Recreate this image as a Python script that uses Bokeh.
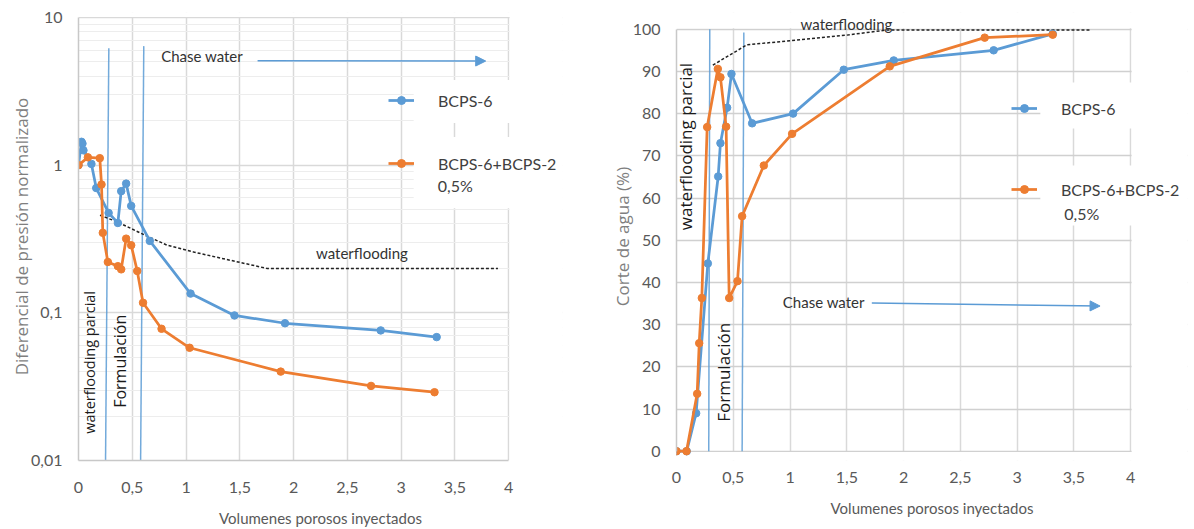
from bokeh.plotting import figure
from bokeh.layouts import row
from bokeh.models import (Range1d, FixedTicker, CustomJSTickFormatter, Legend, LegendItem,
                          Label, Arrow, NormalHead, BoxAnnotation)
from bokeh.embed import file_html
from bokeh.resources import INLINE

BLUE = "#5B9BD5"
ORANGE = "#ED7D31"
GRID = "#D9D9D9"
MINOR_GRID = "#EDEDED"
AXIS = "#C8C8C8"
TICK_TXT = "#595959"
TITLE_TXT = "#7F7F7F"
NOTE_TXT = "#333333"

# ---------------- data: normalized pressure differential ----------------
pv_dp_bcps6 = [0.0, 0.028, 0.037, 0.046, 0.12, 0.165, 0.28, 0.366, 0.397, 0.443, 0.49,
               0.663, 1.042, 1.45, 1.92, 2.81, 3.33]
dp_bcps6 = [1.0, 1.44, 1.40, 1.26, 1.02, 0.70, 0.475, 0.406, 0.667, 0.75, 0.53,
            0.307, 0.135, 0.096, 0.085, 0.076, 0.0685]

pv_dp_mix = [0.0, 0.087, 0.198, 0.214, 0.226, 0.273, 0.366, 0.397, 0.443, 0.49, 0.546,
             0.60, 0.772, 1.033, 1.88, 2.72, 3.31]
dp_mix = [1.0, 1.13, 1.115, 0.74, 0.348, 0.221, 0.207, 0.197, 0.318, 0.287, 0.192,
          0.117, 0.078, 0.058, 0.040, 0.032, 0.029]

# waterflooding reference trend (pressure)
pv_dp_wf = [0.2, 0.36, 0.62, 0.825, 1.07, 1.75, 3.9]
dp_wf = [0.458, 0.413, 0.335, 0.287, 0.258, 0.2, 0.2]

# ---------------- data: water cut ----------------
pv_wc_bcps6 = [0.0, 0.09, 0.173, 0.276, 0.367, 0.387, 0.446, 0.484, 0.666, 1.027,
               1.473, 1.913, 2.793, 3.313]
wc_bcps6 = [0.0, 0.0, 9.0, 44.5, 65.1, 73.0, 81.4, 89.4, 77.7, 80.0,
            90.4, 92.6, 95.0, 98.9]

pv_wc_mix = [0.0, 0.088, 0.182, 0.2, 0.223, 0.27, 0.364, 0.387, 0.437, 0.464, 0.537,
             0.578, 0.769, 1.018, 1.878, 2.714, 3.313]
wc_mix = [0.0, 0.0, 13.6, 25.6, 36.3, 76.8, 90.6, 88.6, 76.9, 36.3, 40.3,
          55.7, 67.7, 75.2, 91.2, 98.0, 98.7]

# waterflooding reference trend (water cut)
pv_wc_wf = [0.32, 0.62, 1.09, 1.5, 1.85, 3.65]
wc_wf = [91.5, 96.3, 97.5, 98.6, 99.8, 99.8]

# injection stage boundaries (pore volumes), bottom and top of each marker line
dp_stage_x_bottom = [0.251, 0.577]
dp_stage_x_top = [0.282, 0.607]
wc_stage_x_bottom = [0.284, 0.578]
wc_stage_x_top = [0.293, 0.593]

x_ticks = [0, 0.5, 1, 1.5, 2, 2.5, 3, 3.5, 4]
dp_ticks = [0.01, 0.1, 1, 10]
dp_minor_ticks = [m * 10.0 ** e for e in (-2, -1, 0) for m in range(2, 10)]
wc_ticks = list(range(0, 101, 10))

SERIES_NAMES = ["BCPS-6", "BCPS-6+BCPS-2"]

X_MAX = 4.0      # last labelled pore volume
X_ROOM = 4.5     # frame extends past the axis so legend text fits
DP_TOP = 10 ** (1 + 5 / 147.66)   # a little headroom above the 10 gridline
WC_LOW, WC_TOP = -2.2, 103.96     # room below 0 % and above 100 %

comma = CustomJSTickFormatter(code="return tick.toString().replace('.', ',');")


def style(p, xstand, xtitle_stand, ystand, ytitle_stand, ybounds):
    p.outline_line_color = None
    p.background_fill_color = "white"
    for ax in (p.xaxis[0], p.yaxis[0]):
        ax.axis_line_color = AXIS
        ax.axis_line_width = 1.5
        ax.major_tick_line_color = None
        ax.minor_tick_line_color = None
        ax.major_tick_out = 0
        ax.major_tick_in = 0
        ax.minor_tick_out = 0
        ax.major_label_text_font = "Lato"
        ax.major_label_text_font_size = "16px"
        ax.major_label_text_color = TICK_TXT
        ax.axis_label_text_font_style = "normal"
    p.xaxis[0].bounds = (0, X_MAX)
    p.yaxis[0].bounds = ybounds
    p.xaxis[0].axis_label = "Volumenes porosos inyectados"
    p.xaxis[0].axis_label_text_font = "Lato"
    p.xaxis[0].axis_label_text_font_size = "15px"
    p.xaxis[0].axis_label_text_color = TICK_TXT
    p.xaxis[0].major_label_standoff = xstand
    p.xaxis[0].axis_label_standoff = xtitle_stand
    p.yaxis[0].axis_label_text_font = "Open Sans"
    p.yaxis[0].axis_label_text_font_size = "17px"
    p.yaxis[0].axis_label_text_color = TITLE_TXT
    p.yaxis[0].major_label_standoff = ystand
    p.yaxis[0].axis_label_standoff = ytitle_stand
    p.xaxis[0].ticker = FixedTicker(ticks=x_ticks)
    p.xaxis[0].formatter = comma
    p.xgrid.grid_line_color = GRID
    p.xgrid.grid_line_width = 1.5
    p.ygrid.grid_line_color = GRID
    p.ygrid.grid_line_width = 1.5


def series(p, x, y, color):
    ln = p.line(x, y, line_color=color, line_width=2.75)
    dots = p.scatter(x, y, size=7.5, fill_color=color, line_color=color)
    return [ln, dots]


def note(p, x, y, text, size="15px", font="Lato", angle=0, color=NOTE_TXT, align="center"):
    p.add_layout(Label(x=x, y=y, text=text, text_font=font, text_font_size=size,
                       text_color=color, text_align=align, text_baseline="middle",
                       angle=angle, angle_units="deg"))


def legend(p, items, loc, spacing):
    lg = Legend(items=[LegendItem(label=n, renderers=r) for n, r in items],
                location=loc, orientation="vertical", glyph_width=26, glyph_height=20,
                label_height=20, label_standoff=24, spacing=spacing, padding=0, margin=0,
                border_line_color=None, background_fill_alpha=0,
                label_text_font="Lato", label_text_font_size="16px",
                label_text_color="#404040")
    p.add_layout(lg)


def white_box(p, left, right, bottom, top, level="annotation"):
    p.add_layout(BoxAnnotation(left=left, right=right, bottom=bottom, top=top,
                               fill_color="white", fill_alpha=1.0, line_color=None,
                               level=level))


# ======================= pressure differential chart =======================
p1 = figure(width=600, height=529, y_axis_type="log",
            x_range=Range1d(0, X_ROOM), y_range=Range1d(0.01, DP_TOP),
            output_backend="svg", toolbar_location=None,
            min_border_left=78, min_border_right=38, min_border_top=12, min_border_bottom=69)
style(p1, 21, 13, 16, -5, (0.01, 10))
p1.yaxis[0].axis_label = "Diferencial de presión normalizado"
p1.yaxis[0].ticker = FixedTicker(ticks=dp_ticks, minor_ticks=dp_minor_ticks)
p1.yaxis[0].formatter = comma
p1.ygrid.minor_grid_line_color = MINOR_GRID
p1.ygrid.minor_grid_line_width = 1

p1.segment(x0=dp_stage_x_bottom, y0=[0.009, 0.009], x1=dp_stage_x_top, y1=[6.2, 6.4],
           line_color=BLUE, line_width=1.5, line_alpha=0.85)
p1.line(pv_dp_wf, dp_wf, line_color="#222222", line_width=1.5, line_dash="3 2")
r1_b = series(p1, pv_dp_bcps6, dp_bcps6, BLUE)
r1_o = series(p1, pv_dp_mix, dp_mix, ORANGE)

# blank margins outside the 0-4 / 0.01-10 area, and the legend panels
white_box(p1, X_MAX + 0.008, X_ROOM + 0.1, 0.005, 20)
white_box(p1, -0.1, X_ROOM + 0.1, 10.08, 20)
white_box(p1, 3.116, X_ROOM + 0.1, 1.93, 3.77)
white_box(p1, 3.116, X_ROOM + 0.1, 0.511, 1.55)

p1.add_layout(Arrow(end=NormalHead(size=10, fill_color=BLUE, line_color=BLUE, line_width=1),
                    x_start=1.665, y_start=5.1, x_end=3.786, y_end=5.07,
                    line_color=BLUE, line_width=1.5))
note(p1, 1.149, 5.48, "Chase water")
note(p1, 2.635, 0.253, "waterflooding")
note(p1, 0.105, 0.0462, "waterflooding parcial", size="14.5px", font="Open Sans",
     angle=90, color="#1a1a1a")
note(p1, 0.39, 0.047, "Formulación", size="16px", font="Open Sans", angle=90, color="#1a1a1a")

legend(p1, list(zip(SERIES_NAMES, [r1_b, r1_o])), (310, 287), 43)
note(p1, 3.34, 0.732, "0,5%", size="16px", color="#404040", align="left")

# ======================= water cut chart =======================
p2 = figure(width=594, height=529,
            x_range=Range1d(0, X_ROOM), y_range=Range1d(WC_LOW, WC_TOP),
            output_backend="svg", toolbar_location=None,
            min_border_left=76, min_border_right=7, min_border_top=12, min_border_bottom=69)
style(p2, 11, 13, 16, -4, (0, 100))
p2.xaxis[0].axis_line_color = None
p2.yaxis[0].axis_label = "Corte de agua (%)"
p2.yaxis[0].ticker = FixedTicker(ticks=wc_ticks)
p2.ygrid.grid_line_color = "#D0D0D0"

# keep the area under 0 % clear of vertical gridlines
white_box(p2, -0.1, X_ROOM + 0.1, WC_LOW - 1, -0.2, level="underlay")

p2.segment(x0=wc_stage_x_bottom, y0=[0, 0], x1=wc_stage_x_top, y1=[100, 99.2],
           line_color=BLUE, line_width=1.5, line_alpha=0.85)
p2.line(pv_wc_wf, wc_wf, line_color="#222222", line_width=1.5, line_dash="3 2")
r2_b = series(p2, pv_wc_bcps6, wc_bcps6, BLUE)
r2_o = series(p2, pv_wc_mix, wc_mix, ORANGE)

white_box(p2, X_MAX + 0.008, X_ROOM + 0.1, WC_LOW - 1, WC_TOP + 1)
white_box(p2, -0.1, X_ROOM + 0.1, 100.2, WC_TOP + 1)
white_box(p2, 3.204, X_ROOM + 0.1, 76.5, 87.4)
white_box(p2, 3.204, X_ROOM + 0.1, 53.5, 67.7)

p2.add_layout(Arrow(end=NormalHead(size=10, fill_color=BLUE, line_color=BLUE, line_width=1),
                    x_start=1.72, y_start=35.1, x_end=3.73, y_end=34.4,
                    line_color=BLUE, line_width=1.5))
note(p2, 1.297, 35.3, "Chase water")
note(p2, 1.497, 101.3, "waterflooding")
note(p2, 0.079, 72.2, "waterflooding parcial", size="17px", font="Open Sans",
     angle=90, color="#1a1a1a")
note(p2, 0.411, 18.7, "Formulación", size="17px", font="Open Sans", angle=90, color="#1a1a1a")

legend(p2, list(zip(SERIES_NAMES, [r2_b, r2_o])), (335, 261), 61)
note(p2, 3.415, 56.3, "0,5%", size="16px", color="#404040", align="left")

layout = row(p1, p2)
open("out.html", "w").write(file_html(layout, INLINE))
